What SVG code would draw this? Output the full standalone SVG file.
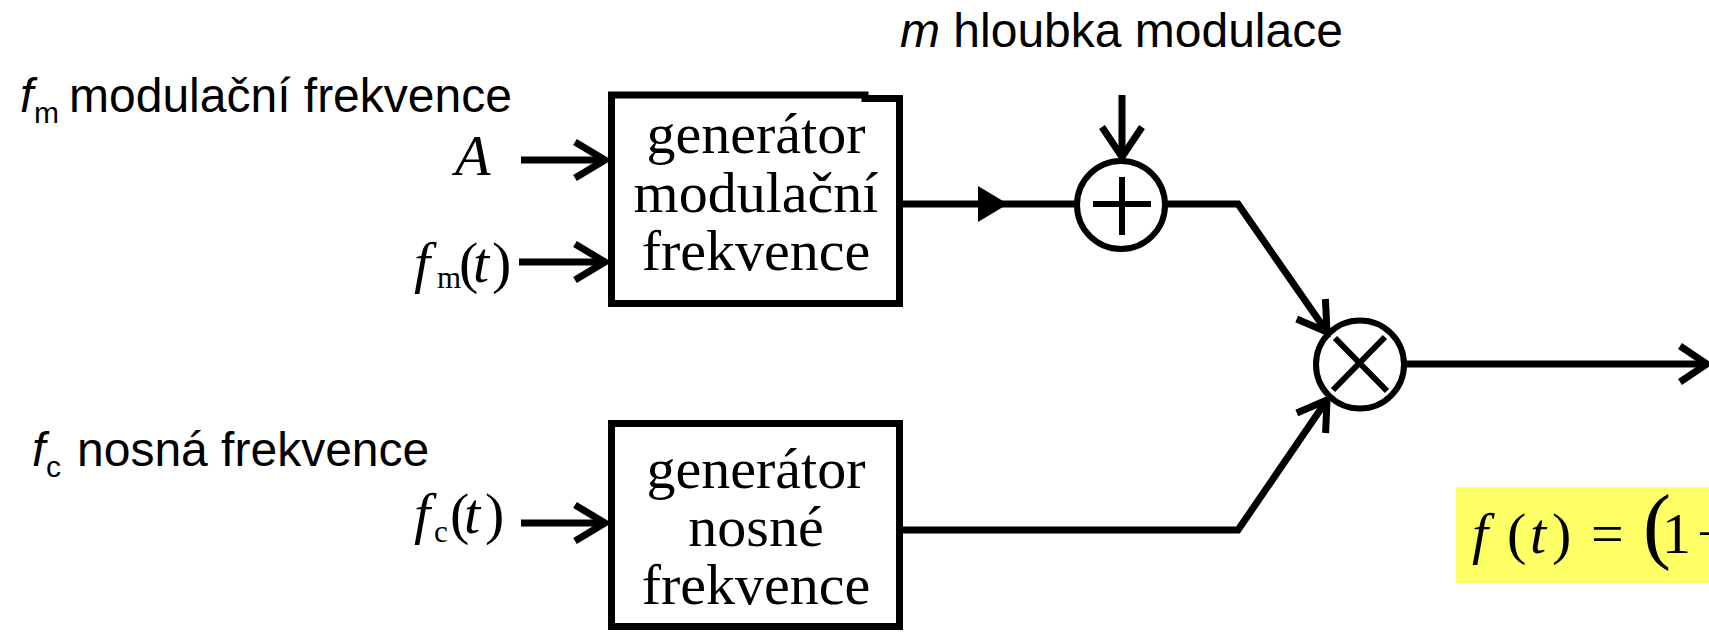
<svg xmlns="http://www.w3.org/2000/svg" width="1709" height="633" viewBox="0 0 1709 633">
<style>
.lbl{font-family:"Liberation Sans",Arial,sans-serif;font-size:48px;fill:#000}
.tm{font-family:"Liberation Serif","Times New Roman",serif;font-size:58px;fill:#000}
.it{font-style:italic}
.box{fill:#fff;stroke:#000;stroke-width:7}
.ln{fill:none;stroke:#000;stroke-width:7;stroke-linecap:butt;stroke-linejoin:miter}
.ah{fill:none;stroke:#000;stroke-width:7;stroke-linecap:butt;stroke-linejoin:miter}
.circ{fill:#fff;stroke:#000;stroke-width:6}
.sym{stroke:#000;stroke-width:6;fill:none}
</style>
<rect width="1709" height="633" fill="#fff"/>

<g id="labels">
  <text class="lbl" x="20" y="112"><tspan class="it">f</tspan><tspan font-size="30" x="34" dy="11">m</tspan><tspan dy="-11" x="69">modulační frekvence</tspan></text>
  <text class="lbl" x="900" y="47"><tspan class="it">m</tspan> hloubka modulace</text>
  <text class="lbl" x="32" y="466"><tspan class="it">f</tspan><tspan font-size="30" x="46" dy="11">c</tspan><tspan dy="-11" x="77">nosná frekvence</tspan></text>
  <text class="tm it" x="455" y="175">A</text>
  <text class="tm" y="282"><tspan class="it" x="414">f</tspan><tspan font-size="31" x="437" dy="6">m</tspan><tspan x="459" dy="-6">(</tspan><tspan class="it" x="473">t</tspan><tspan x="492">)</tspan></text>
  <text class="tm" y="533"><tspan class="it" x="414">f</tspan><tspan font-size="31" x="434" dy="9">c</tspan><tspan x="450" dy="-9">(</tspan><tspan class="it" x="464">t</tspan><tspan x="485">)</tspan></text>
</g>

<g id="node-gen-mod">
  <path class="box" d="M611.5,303.5 V95 H865 V98.5 H899.5 V303.5 Z"/>
  <text class="tm" text-anchor="middle" x="756" y="153">generátor</text>
  <text class="tm" text-anchor="middle" x="756" y="212">modulační</text>
  <text class="tm" text-anchor="middle" x="756" y="270">frekvence</text>
</g>

<g id="node-gen-nos">
  <rect class="box" x="611.5" y="423.5" width="288" height="203"/>
  <text class="tm" text-anchor="middle" x="756" y="488">generátor</text>
  <text class="tm" text-anchor="middle" x="756" y="546">nosné</text>
  <text class="tm" text-anchor="middle" x="756" y="604">frekvence</text>
</g>

<g id="node-sum">
  <circle class="circ" cx="1121" cy="205" r="44"/>
  <path class="sym" d="M1093,204 H1151 M1122,177 V235"/>
</g>

<g id="node-mul">
  <circle class="circ" cx="1360" cy="364.5" r="44"/>
  <path class="sym" d="M1335,338 L1387,391 M1385,337 L1333,390"/>
</g>

<g id="connectors">
  <path class="ln" d="M521,160 H604"/>
  <path class="ah" d="M575,142 L605,160 L575,178"/>
  <path class="ln" d="M519,262 H604"/>
  <path class="ah" d="M575,244 L605,262 L575,280"/>
  <path class="ln" d="M521,523 H604"/>
  <path class="ah" d="M575,505 L605,523 L575,541"/>
  <path class="ln" d="M903,204 H1075"/>
  <polygon points="978,186 1008,204 978,222" fill="#000"/>
  <path class="ln" d="M1122,95 V157"/>
  <path class="ah" d="M1102,127 L1122,157 L1142,127"/>
  <path class="ln" d="M1166,204 H1238 L1327,332"/>
  <path class="ah" d="M1325.4,299 L1327,332 L1296.7,319"/>
  <path class="ln" d="M903,530 H1238 L1327,400"/>
  <path class="ah" d="M1325.6,433 L1327,400 L1296.8,413"/>
  <path class="ln" d="M1406,364 H1706"/>
  <path class="ah" d="M1680,346 L1707,364 L1680,382"/>
</g>

<g id="formula">
  <rect x="1456" y="487" width="260" height="96" fill="#ffff66"/>
  <text class="tm" y="553"><tspan class="it" x="1472">f</tspan><tspan x="1507">(</tspan><tspan class="it" x="1530">t</tspan><tspan x="1552">)</tspan><tspan x="1591">=</tspan><tspan x="1643" font-size="84">(</tspan><tspan x="1662">1</tspan><tspan x="1697">+</tspan></text>
</g>
</svg>
